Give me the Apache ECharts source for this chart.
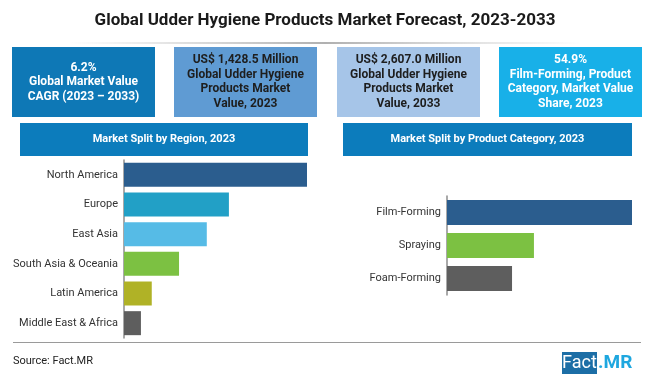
<!DOCTYPE html>
<html>
<head>
<meta charset="utf-8">
<script src="https://cdn.jsdelivr.net/npm/echarts@6/dist/echarts.min.js"></script>
<style>
  html, body { margin: 0; padding: 0; background: #fff; }
  #chart { width: 650px; height: 377px; }
</style>
</head>
<body>
<div id="chart"></div>
<script>
// region split, 2023 (share %)
var regions = ['North America', 'Europe', 'East Asia', 'South Asia & Oceania', 'Latin America', 'Middle East & Africa'];
var regionShare = [38.9, 22.3, 17.6, 11.7, 5.9, 3.6];
var regionColors = ['#2b5d8e', '#22a0c6', '#56bbe6', '#7cc142', '#b0b226', '#5e5e5e'];

// product category split, 2023 (share %)
var products = ['Film-Forming', 'Spraying', 'Foam-Forming'];
var productShare = [54.9, 25.8, 19.3];
var productColors = ['#2b5d8e', '#7cc142', '#5e5e5e'];

// headline boxes
var boxTexts = [
  '6.2%\nGlobal Market Value\nCAGR (2023 – 2033)',
  'US$ 1,428.5 Million\nGlobal Udder Hygiene\nProducts Market\nValue, 2023',
  'US$ 2,607.0 Million\nGlobal Udder Hygiene\nProducts Market\nValue, 2033',
  '54.9%\nFilm-Forming, Product\nCategory, Market Value\nShare, 2023'
];
var boxFill = ['#0e78b6', '#5f9bd3', '#a6c5e8', '#18b0e8'];
var boxInk = ['#ffffff', '#1e1e1e', '#1e1e1e', '#ffffff'];

var FONT = 'Roboto, sans-serif';
var chart = echarts.init(document.getElementById('chart'));

var graphics = [
  {
    type: 'text', x: 325, y: 21,
    style: { text: 'Global Udder Hygiene Products Market Forecast, 2023-2033', fontFamily: FONT, fontSize: 17, fontWeight: 'bold', fill: '#1a1a1a', align: 'center', verticalAlign: 'middle' }
  },
  {
    type: 'line', shape: { x1: 70, y1: 43, x2: 580, y2: 43 },
    style: {
      lineWidth: 1.5,
      stroke: new echarts.graphic.LinearGradient(0, 0, 1, 0, [
        { offset: 0, color: 'rgba(170,170,170,0)' },
        { offset: 0.5, color: 'rgba(150,150,150,1)' },
        { offset: 1, color: 'rgba(170,170,170,0)' }
      ])
    }
  },
  // section headers
  { type: 'rect', shape: { x: 20, y: 123, width: 288, height: 33 }, style: { fill: '#0c7cbc' } },
  { type: 'text', x: 164, y: 139.5, style: { text: 'Market Split by Region, 2023', fontFamily: FONT, fontSize: 11, fontWeight: 'bold', fill: '#fff', align: 'center', verticalAlign: 'middle' } },
  { type: 'rect', shape: { x: 343, y: 123, width: 289, height: 33 }, style: { fill: '#0c7cbc' } },
  { type: 'text', x: 487.5, y: 139.5, style: { text: 'Market Split by Product Category, 2023', fontFamily: FONT, fontSize: 11, fontWeight: 'bold', fill: '#fff', align: 'center', verticalAlign: 'middle' } },
  // bottom rule
  { type: 'line', shape: { x1: 13, y1: 342.5, x2: 641, y2: 342.5 }, style: { stroke: '#9a9a9a', lineWidth: 1 } },
  { type: 'text', x: 13, y: 361, style: { text: 'Source: Fact.MR', fontFamily: FONT, fontSize: 11, fill: '#222', verticalAlign: 'middle' } },
  // logo
  { type: 'rect', shape: { x: 562, y: 352, width: 35, height: 22 }, style: { fill: '#1c6ea6' } },
  { type: 'text', x: 579.5, y: 363, style: { text: 'Fact', fontFamily: FONT, fontSize: 18, fill: '#fff', align: 'center', verticalAlign: 'middle' } },
  { type: 'text', x: 598, y: 363, style: { text: '.MR', fontFamily: FONT, fontSize: 19, fontWeight: 'bold', fill: '#1ea7df', verticalAlign: 'middle' } }
];

var boxX = [12, 174, 337, 499];
for (var i = 0; i < boxTexts.length; i++) {
  graphics.push({ type: 'rect', shape: { x: boxX[i], y: 47, width: 143, height: 70 }, style: { fill: boxFill[i] } });
  graphics.push({
    type: 'text', x: boxX[i] + 71.5, y: 82,
    style: { text: boxTexts[i], fontFamily: FONT, fontSize: 12, fontWeight: 'bold', lineHeight: 14.5, fill: boxInk[i], align: 'center', verticalAlign: 'middle' }
  });
}

function catAxis(idx, cats) {
  return {
    type: 'category', gridIndex: idx, data: cats, inverse: true,
    axisLine: { lineStyle: { color: '#8c8c8c', width: 1.5 } },
    axisTick: { show: false },
    axisLabel: { color: '#333', fontFamily: FONT, fontSize: 11, margin: 6 }
  };
}
function valAxis(idx, max) {
  return { type: 'value', gridIndex: idx, min: 0, max: max, show: false, splitLine: { show: false } };
}

chart.setOption({
  animation: false,
  graphic: graphics,
  grid: [
    { left: 124, top: 160, width: 183, height: 178 },
    { left: 447, top: 196, width: 185, height: 99 }
  ],
  xAxis: [valAxis(0, regionShare[0]), valAxis(1, productShare[0])],
  yAxis: [catAxis(0, regions), catAxis(1, products)],
  series: [
    {
      type: 'bar', xAxisIndex: 0, yAxisIndex: 0, barWidth: 24,
      data: regionShare.map(function (v, k) { return { value: v, itemStyle: { color: regionColors[k] } }; })
    },
    {
      type: 'bar', xAxisIndex: 1, yAxisIndex: 1, barWidth: 25,
      data: productShare.map(function (v, k) { return { value: v, itemStyle: { color: productColors[k] } }; })
    }
  ]
});
</script>
</body>
</html>
